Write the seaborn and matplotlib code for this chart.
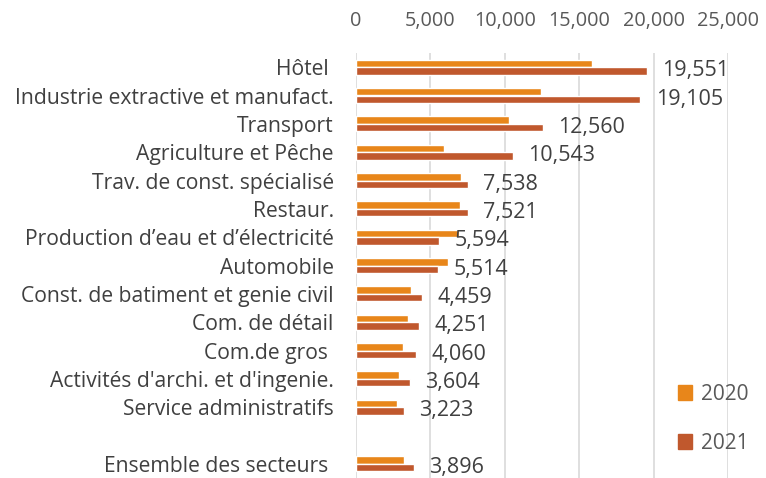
import numpy as np
import pandas as pd
import seaborn as sns
import matplotlib.pyplot as plt
from matplotlib.patches import Patch

sectors = ['Hôtel ', 'Industrie extractive et manufact.', 'Transport', 'Agriculture et Pêche',
           'Trav. de const. spécialisé', 'Restaur.', 'Production d\u2019eau et d\u2019électricité',
           'Automobile', 'Const. de batiment et genie civil', 'Com. de détail', 'Com.de gros ',
           "Activités d'archi. et d'ingenie.", 'Service administratifs', 'Ensemble des secteurs ']
vals_2020 = [15840, 12410, 10260, 5940, 7060, 6970, 6900, 6200, 3700, 3520, 3180, 2910, 2760, 3250]
vals_2021 = [19551, 19105, 12560, 10543, 7538, 7521, 5594, 5514, 4459, 4251, 4060, 3604, 3223, 3896]
years = ['2020', '2021']
colors = ['#E8861A', '#C0582D']
xticks = [0, 5000, 10000, 15000, 20000, 25000]

df = pd.DataFrame({
    'secteur': sectors * 2,
    'annee': [years[0]] * len(sectors) + [years[1]] * len(sectors),
    'valeur': vals_2020 + vals_2021,
})

# blank row before the total
order = sectors[:-1] + [' '] + sectors[-1:]

sns.set_style('white')
plt.rcParams['font.family'] = ['Open Sans', 'DejaVu Sans']

fig = plt.figure(figsize=(7.66, 4.78), dpi=100)
ax = fig.add_axes([356 / 766, 0, 372 / 766, 425 / 478])

sns.barplot(data=df, y='secteur', x='valeur', hue='annee', order=order, hue_order=years,
            palette=colors, orient='h', width=0.52, saturation=1, legend=False, ax=ax)

ax.bar_label(ax.containers[1], labels=[f'{v:,}' for v in vals_2021], padding=11,
             fontsize=15.5, color='#404040')

ax.set_xlim(0, 25000)
ax.set_xticks(xticks)
ax.set_xticklabels([f'{t:,}' for t in xticks])
ax.xaxis.tick_top()
ax.tick_params(axis='x', length=0, pad=16, labelsize=14.3, labelcolor='#595959')
ax.tick_params(axis='y', length=0, pad=16, labelsize=15.2, labelcolor='#404040')
ax.grid(axis='x', color='#D9D9D9', linewidth=1.2)
ax.set_axisbelow(True)
ax.set_xlabel('')
ax.set_ylabel('')
for s in ax.spines.values():
    s.set_visible(False)

handles = [Patch(color=c) for c in colors]
fig.legend(handles, years, loc='upper left', bbox_to_anchor=(659 / 766, 1 - 365 / 478),
           frameon=False, fontsize=15, labelcolor='#595959', handlelength=0.7, handleheight=0.7,
           handletextpad=0.4, labelspacing=1.35)

fig.savefig('out.png', dpi=100)
